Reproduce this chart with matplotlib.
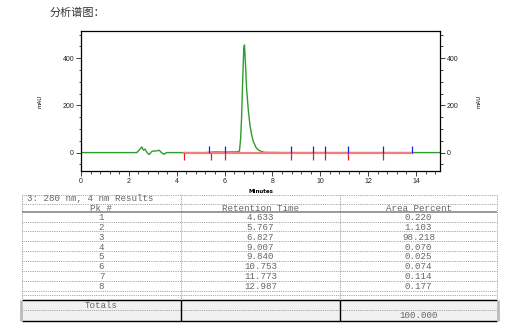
import matplotlib
matplotlib.use("Agg")
import matplotlib.pyplot as plt
from matplotlib.ticker import MultipleLocator

# chromatogram trace (minutes, mAU)
trace_t = [0.0, 1.0, 2.0, 2.33, 2.47, 2.54, 2.61, 2.67, 2.77, 2.85, 2.95, 3.05, 3.16,
           3.27, 3.37, 3.47, 3.58, 3.86, 4.5, 5.2, 5.6, 6.0, 6.3, 6.51, 6.62, 6.67,
           6.71, 6.76, 6.80, 6.83, 6.87, 6.92, 6.99, 7.06, 7.13, 7.20, 7.31, 7.41,
           7.55, 7.69, 8.5, 10.0, 12.0, 14.0, 15.0]
trace_y = [0, 0, 0, 0, 15, 24, 10, 15, -1, -8, 4, 7, 7,
           10, -1, -7, 0, 0, 0, 0, 3, 2, 3, 3, 6, 60,
           150, 320, 440, 456, 380, 270, 180, 115, 75, 47, 22, 11,
           4, 1, 0, 0, 0, 0, 0]

# integration markers
base_start = 4.30
base_end = 13.83
red_ticks = [4.30, 5.43, 6.02, 8.76, 9.71, 10.21, 11.14, 12.60]
blue_ticks = [5.35, 6.02, 8.76, 9.71, 10.21, 11.14, 12.60, 13.83]

# results table
table_title = "3: 280 nm, 4 nm Results"
headers = ["Pk #", "Retention Time", "Area Percent"]
pk = ["1", "2", "3", "4", "5", "6", "7", "8"]
ret_time = ["4.633", "5.767", "6.827", "9.007", "9.840", "10.753", "11.773", "12.987"]
area_pct = ["0.220", "1.103", "98.218", "0.070", "0.025", "0.074", "0.114", "0.177"]
total_label = "Totals"
total_area = "100.000"

W, H = 525, 327
fig = plt.figure(figsize=(W / 100, H / 100), dpi=100)
fig.patch.set_facecolor("white")

fig.text(50 / W, 1 - 13 / H, "分析谱图：", family=["Noto Sans CJK SC", "DejaVu Sans"],
         fontsize=8, color="#333333", va="center", ha="left")

ax = fig.add_axes([81 / W, 1 - 171 / H, (440 - 81) / W, (171 - 31) / H])
ax.plot(trace_t, trace_y, color="#2e9b2e", lw=1.0, zorder=2)
ax.plot([base_start, base_end], [0, 0], color="#f08080", lw=1.6, zorder=3)
ax.vlines(red_ticks, -30, 0, color="#e02020", lw=0.9, zorder=4)
ax.vlines(blue_ticks, 0, 28, color="#2020e0", lw=0.9, zorder=4)

ax.set_xlim(0, 15)
ax.set_ylim(-78, 515)
ax.xaxis.set_major_locator(MultipleLocator(2))
ax.xaxis.set_minor_locator(MultipleLocator(0.4))
ax.yaxis.set_major_locator(MultipleLocator(200))
ax.yaxis.set_minor_locator(MultipleLocator(50))
ax.tick_params(which="both", direction="out", labelsize=5, width=0.6,
               colors="#222222", right=True, labelright=True, pad=1.5)
ax.tick_params(which="major", length=3.5)
ax.tick_params(which="minor", length=1.8)
for lab in ax.get_xticklabels() + ax.get_yticklabels():
    lab.set_family("Liberation Sans")
for s in ax.spines.values():
    s.set_linewidth(0.9)
    s.set_color("black")
ax.set_xlabel("Minutes", fontsize=4, fontweight="bold", labelpad=3)
ax.set_ylabel("mAU", fontsize=4, labelpad=14)
ax2 = ax.secondary_yaxis("right")
ax2.set_yticks([])
ax2.spines["right"].set_visible(False)
ax2.set_ylabel("mAU", fontsize=4, labelpad=26)

# table drawn in pixel coordinates
tab = fig.add_axes([0, 0, 1, 1])
tab.set_xlim(0, W)
tab.set_ylim(H, 0)
tab.axis("off")

x_left, x_c1, x_c2, x_right = 22, 181, 340, 497
col_centers = [(x_left + x_c1) / 2, (x_c1 + x_c2) / 2, (x_c2 + x_right) / 2]
mono = dict(family="Liberation Mono", fontsize=6.6, color="#666666", va="center")
dot = dict(color="#888888", lw=0.6, linestyle=(0, (1, 1.2)))

y_top = 195
tab.hlines(y_top, x_left, x_right, **dot)
tab.text(27, 198.7, table_title, ha="left", **mono)
tab.hlines(203.5, x_left, x_right, **dot)
for cx, h in zip(col_centers, headers):
    tab.text(cx, 208.3, h, ha="center", **mono)
tab.hlines(212, x_left, x_right, color="#999999", lw=1.4)

row_y = [217.3 + 9.9 * i for i in range(len(pk))]
for y, a, b, c in zip(row_y, pk, ret_time, area_pct):
    for cx, v in zip(col_centers, [a, b, c]):
        tab.text(cx, y, v, ha="center", **mono)
    tab.hlines(y + 4.2, x_left, x_right, **dot)
tab.hlines(295, x_left, x_right, **dot)

box_top, box_bot = 300, 321
tab.fill_between([x_left, x_right], box_top, box_bot, color="#f1f1f1", zorder=0)
tab.hlines([box_top, box_bot], x_left, x_right, color="black", lw=1.0)
tab.hlines(310, x_left, x_right, **dot)
tab.vlines([x_c1, x_c2], box_top, box_bot, color="black", lw=1.0)
tab.vlines([x_left, x_c1, x_c2, x_right], y_top, box_top, **dot)
tab.vlines([x_left - 1, x_right + 1], box_top, box_bot, color="#bbbbbb", lw=2.0)
tab.text(col_centers[0], 305.5, total_label, ha="center", **mono)
tab.text(col_centers[2], 316, total_area, ha="center", **mono)

fig.savefig("out.png", dpi=100, facecolor="white")
